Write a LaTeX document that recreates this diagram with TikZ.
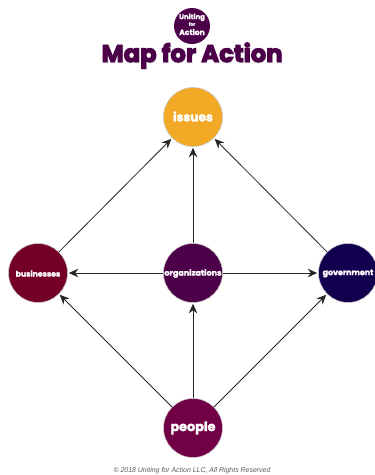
\documentclass[tikz,border=0pt]{standalone}
\usepackage{fontspec}
\setmainfont{Poppins}
\newfontfamily\heavy[UprightFont=* Bold,FakeBold=2.2]{Poppins}
\newfontfamily\heavier[UprightFont=* Bold,FakeBold=4]{Poppins}
\newfontfamily\capfont{Liberation Sans}
\usetikzlibrary{arrows.meta}
\definecolor{plum}{HTML}{4B0049}
\definecolor{wine}{HTML}{74002A}
\definecolor{berry}{HTML}{720046}
\definecolor{navy}{HTML}{12004F}
\definecolor{amber}{HTML}{F2A926}
\tikzset{
  x=1pt,y=-1pt,
  hub/.style={circle,draw=black!22,line width=0.6pt,minimum size=59pt,inner sep=0pt,text=white},
  link/.style={draw=black!85,line width=0.8pt,-{Stealth[length=9.5pt,width=8.5pt]},shorten >=1pt},
  titletext/.style={text=plum,inner sep=0pt},
  lbl/.style={inner sep=0pt,text=white},
}
\begin{document}
\begin{tikzpicture}
\useasboundingbox (0,0) rectangle (375,475);
\node[hub,fill=amber] (issues) at (193,117) {};
\node[hub,fill=wine] (businesses) at (38,273) {};
\node[hub,fill=plum] (organizations) at (193,273) {};
\node[hub,fill=navy] (government) at (348,273) {};
\node[hub,fill=berry] (people) at (193,428) {};
\node[lbl] (issuestext) at (193,116.5) {\heavy\fontsize{12.2}{13}\selectfont issues};
\node[lbl] (businessestext) at (38,273.5) {\heavy\fontsize{7.7}{9}\selectfont businesses};
\node[lbl] (organizationstext) at (193,273.5) {\heavy\fontsize{8}{9}\selectfont organizations};
\node[lbl] (governmenttext) at (348,273.5) {\heavy\fontsize{7.9}{9}\selectfont government};
\node[lbl] (peopletext) at (193,428) {\heavy\fontsize{12.8}{14}\selectfont people};
\draw[link] (businesses) -- (issues);
\draw[link] (organizations) -- (issues);
\draw[link] (government) -- (issues);
\draw[link] (organizations) -- (businesses);
\draw[link] (organizations) -- (government);
\draw[link] (people) -- (businesses);
\draw[link] (people) -- (organizations);
\draw[link] (people) -- (government);
\node[circle,fill=plum,minimum size=36pt,inner sep=0pt] (logo) at (192,26) {};
\node[lbl] (logoa) at (192,17.3) {\heavy\fontsize{6.9}{7}\selectfont Uniting};
\node[lbl] (logob) at (192,24) {\heavy\fontsize{4.4}{5}\selectfont for};
\node[lbl] (logoc) at (192,32) {\heavy\fontsize{7.6}{8}\selectfont Action};
\node[titletext,text=black!35,opacity=0.6] (titleshadow) at (192.4,56.2) {\heavier\fontsize{24.2}{26}\selectfont Map for Action};
\node[titletext] (title) at (192,55.5) {\heavier\fontsize{24.2}{26}\selectfont Map for Action};
\node[inner sep=0pt,text=black!65] (copy) at (192,470.5) {\capfont\itshape\fontsize{6.95}{8}\selectfont © 2018 Uniting for Action LLC, All Rights Reserved};
\end{tikzpicture}
\end{document}
